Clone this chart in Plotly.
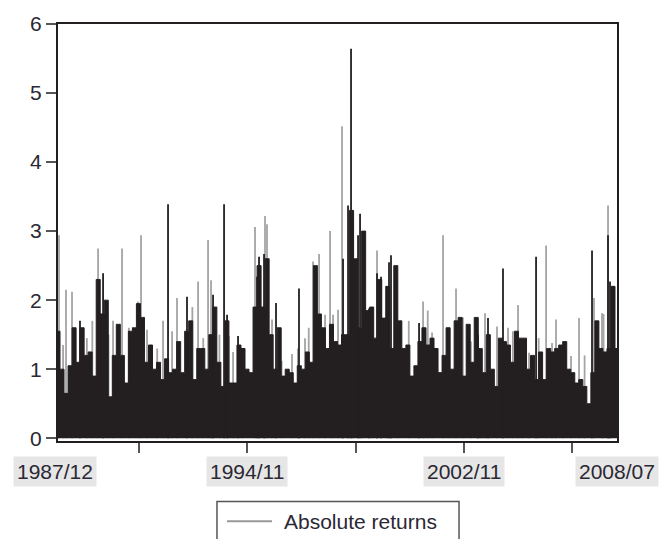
import pandas as pd
import plotly.graph_objects as go

# ---------------- data ----------------
start_date = "1987-11-01"
end_date = "2008-07-01"

# upper edge of the dense black mass, evenly spaced over the sample
black_body = [
    1.55, 1.0, 0.65, 1.05, 1.6, 1.1, 1.6, 1.2, 1.25, 0.9, 2.3, 1.8, 2.0, 0.6, 1.2, 1.65, 1.2, 0.8,
    1.55, 1.6, 1.95, 1.75, 1.1, 1.35, 1.0, 1.1, 0.85, 1.15, 0.95, 1.0, 1.4, 0.95, 1.55, 1.7, 0.85, 1.3,
    1.3, 1.0, 1.5, 1.9, 1.1, 0.75, 1.7, 0.8, 0.8, 1.35, 1.3, 1.0, 0.95, 1.9, 2.5, 1.9, 2.6, 1.5,
    1.0, 1.6, 0.9, 1.0, 0.95, 0.8, 1.05, 1.0, 1.25, 1.1, 2.5, 1.8, 1.6, 1.3, 1.65, 1.4, 1.35,
    1.5, 1.5, 3.3, 2.6, 1.6, 3.0, 1.85, 1.9, 1.45, 2.3, 1.74, 2.2, 1.3, 2.5, 1.7, 1.3, 1.35, 0.9,
    1.05, 1.4, 1.6, 1.35, 1.45, 1.3, 0.95, 1.2, 1.6, 1.0, 1.7, 1.75, 0.9, 1.65, 1.1, 1.75, 1.3,
    0.95, 1.5, 1.0, 0.75, 1.45, 1.4, 1.35, 1.1, 1.55, 1.45, 1.45, 1.0, 1.2, 0.85, 1.25, 0.85, 1.3,
    1.25, 1.3, 1.35, 1.4, 1.0, 0.95, 0.8, 0.85, 0.75, 0.5, 0.95, 1.7, 1.3, 1.25, 1.3, 2.2, 1.3,
]

# light-grey spikes (absolute returns): decimal year, value
grey_years = [
    1987.870, 1988.129, 1988.351, 1989.312, 1989.866, 1990.199, 1990.790, 1990.901, 1991.123,
    1991.715, 1992.232, 1993.009, 1993.378, 1993.489, 1994.303, 1995.116, 1995.485, 1995.559,
    1995.744, 1996.484, 1996.964, 1997.260, 1997.482, 1997.704, 1997.888, 1997.999, 1998.184,
    1998.332, 1998.739, 1999.626, 1999.996, 2001.327, 2001.659, 2002.066, 2002.546, 2003.360,
    2003.471, 2003.618, 2004.062, 2004.469, 2004.839, 2005.245, 2005.874, 2006.095, 2006.243,
    2006.798, 2007.094, 2007.648, 2007.944, 2008.166,
    1988.020, 1988.900, 1989.100, 1989.700, 1990.450, 1991.500, 1992.050, 1992.800, 1993.200,
    1993.800, 1994.150, 1994.650, 1996.100, 1996.700, 1997.100, 1999.100, 1999.450, 2000.400,
    2000.800, 2001.500, 2002.300, 2002.800, 2003.100, 2004.650, 2005.000, 2005.600, 2006.500,
    2007.300, 2008.000,
]
grey_values = [
    2.94, 2.15, 2.12, 2.75, 1.7, 2.75, 1.98, 2.94, 1.57,
    1.7, 2.03, 2.27, 2.87, 2.29, 1.25, 3.06, 3.22, 3.1,
    1.72, 1.22, 1.45, 2.56, 2.67, 1.79, 3.0, 1.79, 1.86,
    4.52, 3.13, 2.72, 2.12, 1.98, 1.53, 2.94, 2.17, 1.5,
    1.17, 1.81, 1.62, 1.6, 1.93, 1.24, 2.79, 1.38, 1.72,
    1.19, 1.74, 2.03, 1.81, 3.37,
    1.35, 1.45, 1.7, 1.5, 1.6, 1.3, 1.55, 1.9, 1.45,
    1.5, 1.48, 1.05, 1.12, 1.3, 1.6, 2.2, 1.9, 1.55,
    1.7, 1.85, 1.6, 1.75, 1.4, 1.55, 1.3, 1.45, 1.35,
    1.2, 1.8,
]

# tall dark spikes: decimal year, value
dark_years = [
    1988.646, 1989.497, 1991.900, 1992.602, 1993.563, 1993.970, 1994.081, 1994.487, 1995.190,
    1995.264, 1995.449, 1995.892, 1996.742, 1998.369, 1998.554, 1998.665, 1998.924, 1998.998,
    1999.330, 1999.626, 1999.774, 2000.070, 2000.144, 2001.179, 2003.360, 2003.729, 2004.284,
    2005.504, 2007.574, 2008.166, 2008.240,
]
dark_values = [
    1.7, 2.39, 3.39, 2.05, 2.08, 3.39, 1.79, 1.48, 2.34,
    2.63, 2.67, 1.96, 2.17, 2.6, 3.37, 5.64, 2.94, 3.25,
    1.88, 2.39, 2.34, 2.55, 2.65, 1.67, 1.5, 1.74, 2.46,
    2.63, 2.72, 2.94, 2.27,
]

tick_dates = ["1990-11-01", "1994-11-01", "1998-11-01", "2002-11-01", "2006-11-01"]
label_dates = ["1987-11-01", "1994-11-01", "2002-11-01", "2008-07-01"]
label_texts = ["1987/12", "1994/11", "2002/11", "2008/07"]
y_ticks = [0, 1, 2, 3, 4, 5, 6]
legend_text = "Absolute returns"

# ---------------- helpers ----------------
def dec_to_date(y):
    yr = int(y)
    return pd.Timestamp(yr, 1, 1) + pd.Timedelta(days=(y - yr) * 365.25)


def spikes(years, values):
    xs, ys = [], []
    for yv, v in zip(years, values):
        d = dec_to_date(yv)
        xs += [d, d, None]
        ys += [0, v, None]
    return xs, ys


BLACK = "#231f20"
GREY = "#a4a4a4"
TXT = "#2a2833"
FONT = "Liberation Sans, Arial, Helvetica, sans-serif"

body_dates = pd.date_range(start_date, end_date, periods=len(black_body))
gx, gy = spikes(grey_years, grey_values)
dx, dy = spikes(dark_years, dark_values)

fig = go.Figure()
fig.add_trace(go.Scatter(x=gx, y=gy, mode="lines", line=dict(color=GREY, width=1.8),
                         name=legend_text, showlegend=False, hoverinfo="skip"))
fig.add_trace(go.Scatter(x=body_dates, y=black_body, mode="lines", fill="tozeroy",
                         line_shape="hvh",
                         fillcolor=BLACK, line=dict(color=BLACK, width=1),
                         showlegend=False, hoverinfo="skip"))
fig.add_trace(go.Scatter(x=dx, y=dy, mode="lines", line=dict(color=BLACK, width=1.8),
                         showlegend=False, hoverinfo="skip"))

annotations = []
for d, t in zip(label_dates, label_texts):
    annotations.append(dict(x=d, y=-0.074, xref="x", yref="paper", text=t, showarrow=False,
                            xanchor="center", yanchor="middle",
                            font=dict(family=FONT, size=21, color=TXT),
                            bgcolor="#e6e6e6", borderpad=3))
annotations[0]["xshift"] = -3

# hand-drawn legend box (partly cut off by the page bottom, as in the reference)
annotations.append(dict(x=0.4007, y=-0.1924, xref="paper", yref="paper", text=legend_text,
                        showarrow=False, xanchor="left", yanchor="middle",
                        font=dict(family=FONT, size=21, color=TXT)))
shapes = [
    dict(type="rect", xref="paper", yref="paper", x0=0.2844, x1=0.7174, y0=-0.1449, y1=-0.30,
         line=dict(color="#555555", width=1.5), fillcolor="white", layer="above"),
    dict(type="line", xref="paper", yref="paper", x0=0.3023, x1=0.3828, y0=-0.1924, y1=-0.1924,
         line=dict(color="#999999", width=2)),
]

fig.update_layout(
    width=661, height=539,
    margin=dict(l=58, r=44, t=20, b=98),
    paper_bgcolor="white", plot_bgcolor="white",
    font=dict(family=FONT, size=21, color=TXT),
    showlegend=False,
    xaxis=dict(type="date", range=[start_date, end_date], showgrid=False, zeroline=False,
               showline=True, linecolor=BLACK, linewidth=2, mirror=True,
               tickmode="array", tickvals=tick_dates, ticktext=[""] * len(tick_dates),
               ticks="outside", ticklen=10, tickwidth=1.5, tickcolor="#555555"),
    yaxis=dict(range=[-0.04, 6.0], showgrid=False, zeroline=False,
               showline=True, linecolor=BLACK, linewidth=2, mirror=True,
               tickmode="array", tickvals=y_ticks,
               ticks="outside", ticklen=10, tickwidth=1.5, tickcolor="#555555",
               tickfont=dict(family=FONT, size=21, color=TXT)),
    annotations=annotations,
    shapes=shapes,
)

fig.write_html("out.html")
